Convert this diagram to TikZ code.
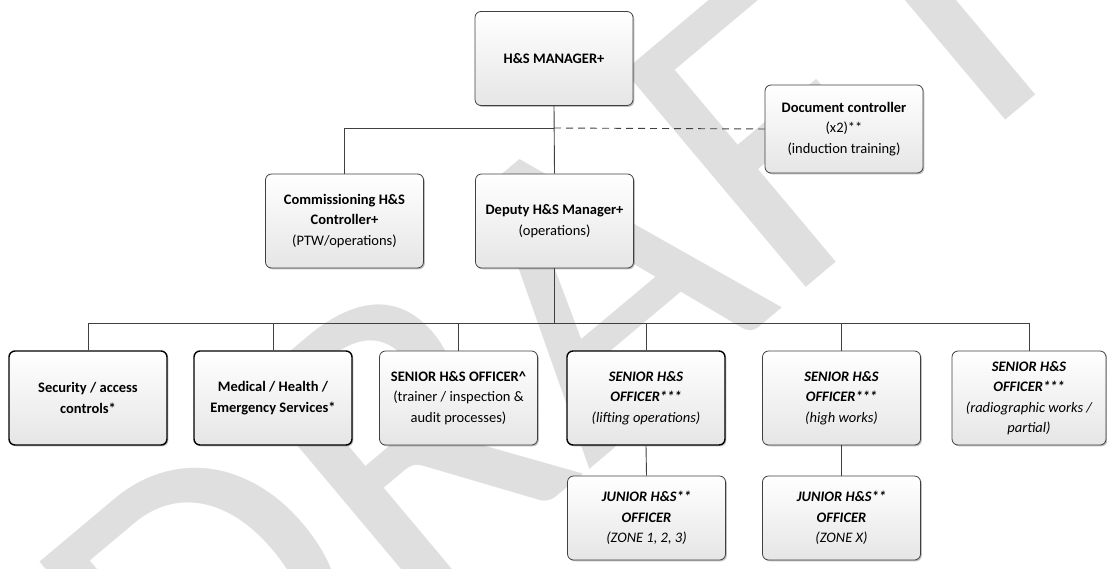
\documentclass[tikz,border=0pt]{standalone}
\usepackage{fontspec}
\setmainfont{Carlito}
\usetikzlibrary{shadows}

\definecolor{linegray}{HTML}{404040}
\definecolor{wmgray}{HTML}{DFDFDF}

\tikzset{
  orgbox/.style={draw=linegray, line width=0.8pt, rounded corners=6pt,
    top color=white, bottom color=black!10, align=center, inner sep=2pt,
    minimum width=158pt, minimum height=94pt,
    drop shadow={shadow xshift=1.3pt, shadow yshift=-1.3pt, opacity=0.25, fill=black},
    font=\fontsize{14.5}{20.5}\selectfont},
  heavy/.style={draw=black, line width=1.4pt},
  link/.style={draw=linegray, line width=0.9pt},
  dotted link/.style={link, dash pattern=on 7pt off 5pt},
}

\begin{document}
\begin{tikzpicture}[x=1pt, y=-1pt]
\useasboundingbox (0,0) rectangle (1107,568);

% watermark
\begin{scope}
  \clip (0,0) rectangle (1107,568);
  \node[rotate=40, text=wmgray, font=\fontsize{440}{440}\selectfont, inner sep=0pt]
    (wm) at (560,310) {DRAFT};
\end{scope}

% top level
\node[orgbox] (mgr) at (554,58.5) {\bfseries H\&S MANAGER+};
\node[orgbox, minimum height=88pt] (doc) at (844,129)
  {\bfseries Document controller\\(x2)**\\(induction training)};

% second level
\node[orgbox] (comm) at (344.5,221)
  {\bfseries Commissioning H\&S\\\bfseries Controller+\\(PTW/operations)};
\node[orgbox] (dep) at (554.5,221)
  {\bfseries Deputy H\&S Manager+\\(operations)};

% third level
\node[orgbox, heavy] (sec) at (88,398)
  {\bfseries Security / access\\\bfseries controls*};
\node[orgbox, heavy] (med) at (273,398)
  {\bfseries Medical / Health /\\\bfseries Emergency Services*};
\node[orgbox] (snr) at (458.5,398)
  {\bfseries SENIOR H\&S OFFICER\textasciicircum\\(trainer / inspection \&\\audit processes)};
\node[orgbox, heavy] (lift) at (646,398)
  {\bfseries\itshape SENIOR H\&S\\\bfseries\itshape OFFICER***\\\itshape (lifting operations)};
\node[orgbox] (high) at (841.5,398)
  {\bfseries\itshape SENIOR H\&S\\\bfseries\itshape OFFICER***\\\itshape (high works)};
\node[orgbox, minimum width=154pt] (rad) at (1029,398)
  {\bfseries\itshape SENIOR H\&S\\\bfseries\itshape OFFICER***\\\itshape (radiographic works /\\\itshape partial)};

% fourth level
\node[orgbox, minimum height=84pt] (jun1) at (646.5,518)
  {\bfseries\itshape JUNIOR H\&S**\\\bfseries\itshape OFFICER\\\itshape (ZONE 1, 2, 3)};
\node[orgbox, minimum height=84pt] (jun2) at (841.5,518)
  {\bfseries\itshape JUNIOR H\&S**\\\bfseries\itshape OFFICER\\\itshape (ZONE X)};

% connectors
\coordinate (tj) at (554,128);
\coordinate (bj) at (554.5,323);
\draw[link] (mgr.south) -- (dep.north);
\draw[link] (comm.north) |- (tj);
\draw[dotted link] (tj) -- (doc.west);
\draw[link] (dep.south) -- (bj);
\foreach \n in {sec,med,snr,lift,high,rad}
  \draw[link] (\n.north) |- (bj);
\draw[link] (lift.south) -- (jun1.north);
\draw[link] (high.south) -- (jun2.north);
\end{tikzpicture}
\end{document}
